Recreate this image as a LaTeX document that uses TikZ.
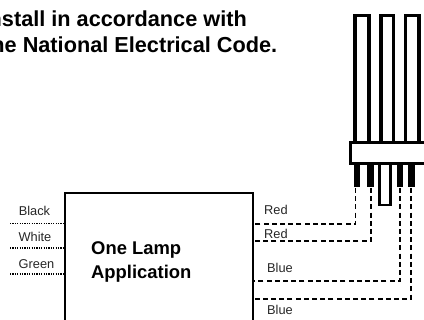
\documentclass[tikz,border=0pt]{standalone}
\usepackage{fontspec}
\setmainfont{Liberation Sans}
\tikzset{
  px/.style={x=1pt,y=-1pt},
  lbl/.style={inner sep=0pt,font=\fontsize{12.8}{12.8}\selectfont,text=black!85},
  bold/.style={inner sep=0pt,font=\bfseries\fontsize{18.4}{18.4}\selectfont,anchor=base west},
  boldhead/.style={inner sep=0pt,font=\bfseries\fontsize{21.7}{21.7}\selectfont,anchor=base west},
  wire/.style={line width=1.5pt,dash pattern=on 5pt off 3.2pt},
  dots/.style={line width=1.2pt,dash pattern=on 1.2pt off 1.2pt},
  outline/.style={draw=black,line width=3.3pt,fill=white},
  pin/.style={fill=black,draw=none}
}
\begin{document}
\begin{tikzpicture}[px]
\useasboundingbox (0,0) rectangle (424,320);
\clip (0,0) rectangle (424,320);
% lamp tubes
\draw[outline] (355,142) -- (355,15.7) -- (369,15.7) -- (369,142);
\draw[outline] (381,142) -- (381,15.7) -- (393.4,15.7) -- (393.4,142);
\draw[outline] (405.7,142) -- (405.7,15.7) -- (419,15.7) -- (419,142);
% centre open pin
\draw[outline,line width=2.6pt] (379.6,164) rectangle (390.5,205);
% base
\draw[outline,line width=3pt] (350.2,142.2) rectangle (430,163.5);
% pins
\fill[pin] (354,165) rectangle (360,187.5);
\fill[pin] (367,165) rectangle (374,187.5);
\fill[pin] (397,165) rectangle (403,187.5);
\fill[pin] (407.5,165) rectangle (415,187.5);
\coordinate (p1) at (355.5,188);
\coordinate (p2) at (371,188);
\coordinate (p3) at (400,188);
\coordinate (p4) at (411,188);
% ballast
\draw[draw=black,line width=2pt] (65,340) |- (253,193) -- (253,340);
\coordinate (r1) at (253,224);
\coordinate (r2) at (253,241);
\coordinate (r3) at (253,281);
\coordinate (r4) at (253,299);
\draw[wire] (p1) -- (p1 |- r1) -- (r1);
\draw[wire] (p2) -- (p2 |- r2) -- (r2);
\draw[wire] (p3) -- (p3 |- r3) -- (r3);
\draw[wire] (p4) -- (p4 |- r4) -- (r4);
% left leads
\coordinate (l1) at (65,223.5);
\coordinate (l2) at (65,248);
\coordinate (l3) at (65,274);
\coordinate (e1) at (10,223.5);
\coordinate (e2) at (10,248);
\coordinate (e3) at (10,274);
\draw[dots] (e1) -- (l1);
\draw[dots] (e2) -- (l2);
\draw[dots] (e3) -- (l3);
% labels
\node[lbl] (tb) at (34.5,210.5) {Black};
\node[lbl] (tw) at (35,237) {White};
\node[lbl] (tg) at (36.5,264.5) {Green};
\node[lbl,anchor=west] (tr1) at (264,210) {Red};
\node[lbl,anchor=west] (tr2) at (264,233.5) {Red};
\node[lbl,anchor=west] (tb1) at (267,268) {Blue};
\node[lbl,anchor=west] (tb2) at (267,310) {Blue};
\node[bold] (o1) at (91,255) {One Lamp};
\node[bold] (o2) at (91,278.5) {Application};
\node[boldhead] (n1) at (-17.5,26.5) {Install in accordance with};
\node[boldhead] (n2) at (-16,53) {the National Electrical Code.};
\end{tikzpicture}
\end{document}
